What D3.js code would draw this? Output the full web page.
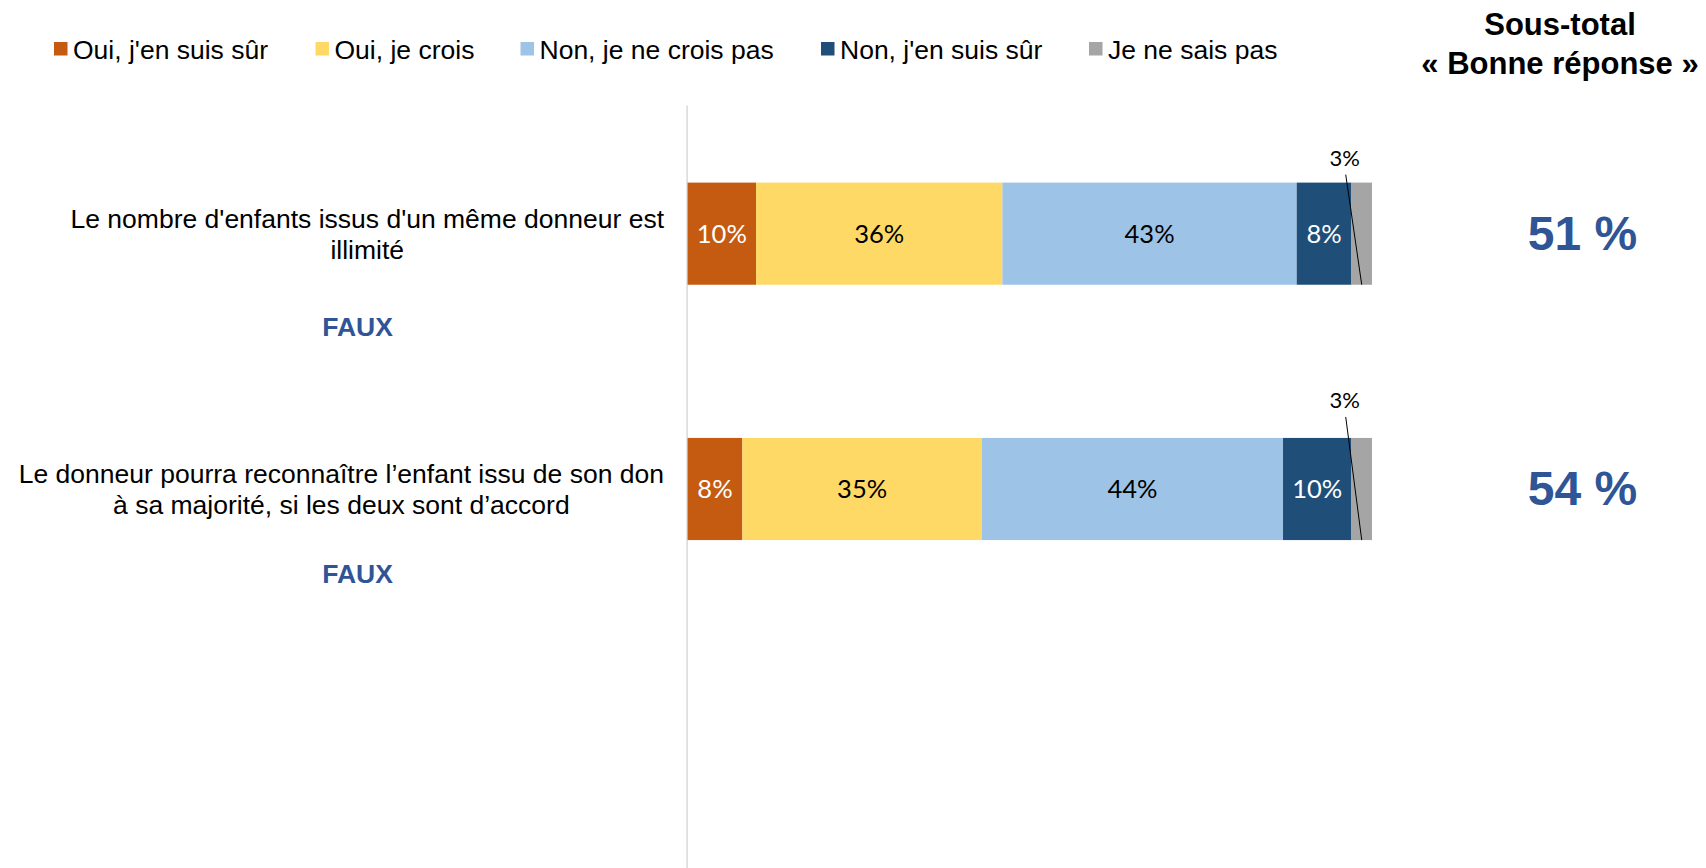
<!DOCTYPE html>
<html>
<head>
<meta charset="utf-8">
<script src="https://cdn.jsdelivr.net/npm/d3@7"></script>
<style>
  body { margin: 0; background: #fff; }
  svg { display: block; }
</style>
</head>
<body>
<div id="chart"></div>
<script>
// data
var series = ["Oui, j'en suis sûr", "Oui, je crois", "Non, je ne crois pas", "Non, j'en suis sûr", "Je ne sais pas"];
var colors = ["#C55A11", "#FFD966", "#9DC3E6", "#1F4E79", "#A5A5A5"];
var labelColors = ["#fff", "#000", "#000", "#fff", "#000"];
var questions = [
  ["Le nombre d'enfants issus d'un même donneur est", "illimité"],
  ["Le donneur pourra reconnaître l\u2019enfant issu de son don", "à sa majorité, si les deux sont d\u2019accord"]
];
var answers = ["FAUX", "FAUX"];
var values = [
  [10, 36, 43, 8, 3],
  [8, 35, 44, 10, 3]
];
var subtotals = ["51 %", "54 %"];

var width = 1706, height = 868;
var blue = "#2F5597";
var arial = "'Liberation Sans', Arial, sans-serif";
var calibri = "Lato, 'Open Sans', sans-serif";

var svg = d3.select("#chart").append("svg")
  .attr("width", width)
  .attr("height", height);

var x = d3.scaleLinear().domain([0, 100]).range([687.6, 1372]);
// three slots, the last one is empty
var y = d3.scaleBand().domain([0, 1, 2]).range([106, 872])
  .paddingInner(0.6).paddingOuter(0.3);

// vertical axis line
svg.append("line")
  .attr("x1", x(0) - 0.5).attr("x2", x(0) - 0.5)
  .attr("y1", 105.5).attr("y2", height)
  .style("stroke", "#d9d9d9").style("stroke-width", 1.5);

// stacked segments
var rows = values.map(function(v, i) {
  var acc = 0;
  return v.map(function(d, j) {
    var seg = {row: i, k: j, v: d, x0: acc, x1: acc + d};
    acc += d;
    return seg;
  });
});

var g = svg.selectAll("g.row").data(rows).enter().append("g").attr("class", "row");

g.selectAll("rect").data(function(d) { return d; })
  .enter().append("rect")
  .attr("x", function(d) { return x(d.x0); })
  .attr("y", function(d) { return y(d.row); })
  .attr("width", function(d) { return x(d.x1) - x(d.x0); })
  .attr("height", y.bandwidth())
  .style("fill", function(d) { return colors[d.k]; });

// labels inside
g.selectAll("text.in").data(function(d) { return d.filter(function(s) { return s.k < 4; }); })
  .enter().append("text")
  .attr("class", "in")
  .attr("x", function(d) { return (x(d.x0) + x(d.x1)) / 2; })
  .attr("y", function(d) { return y(d.row) + y.bandwidth() / 2; })
  .attr("dy", "0.36em")
  .attr("text-anchor", "middle")
  .style("font-family", calibri)
  .style("font-size", "25.5px")
  .style("fill", function(d) { return labelColors[d.k]; })
  .text(function(d) { return d.v + "%"; });

// small segment labels with leader line
var smallOffset = [25, 38];
var small = rows.map(function(r) { return r[4]; });
small.forEach(function(d, i) {
  var cx = (x(d.x0) + x(d.x1)) / 2;
  var ly = y(d.row) - smallOffset[i];
  svg.append("line")
    .attr("x1", cx - 16).attr("y1", ly + 17)
    .attr("x2", cx).attr("y2", y(d.row) + y.bandwidth())
    .style("stroke", "#000").style("stroke-width", 1);
  svg.append("text")
    .attr("x", cx - 17).attr("y", ly)
    .attr("dy", "0.36em")
    .attr("text-anchor", "middle")
    .style("font-family", calibri)
    .style("font-size", "22px")
    .style("fill", "#000")
    .text(d.v + "%");
});

// category labels
var rightEdge = 664;
var answerY = [326.5, 573.5];
questions.forEach(function(lines, i) {
  var cy = y(i) + y.bandwidth() / 2;
  var t = svg.append("text")
    .attr("text-anchor", "middle")
    .style("font-family", arial)
    .style("font-size", "26.5px")
    .style("fill", "#000");
  var spans = t.selectAll("tspan").data(lines).enter().append("tspan")
    .attr("x", 0)
    .attr("y", function(d, k) { return cy + (k - (lines.length - 1) / 2) * 31; })
    .attr("dy", "0.36em")
    .text(function(d) { return d; });
  var maxW = 0;
  spans.each(function() { maxW = Math.max(maxW, this.getComputedTextLength()); });
  spans.attr("x", rightEdge - maxW / 2);

  svg.append("text")
    .attr("x", 357.5)
    .attr("y", answerY[i])
    .attr("dy", "0.36em")
    .attr("text-anchor", "middle")
    .style("font-family", arial)
    .style("font-size", "26.5px")
    .style("font-weight", "bold")
    .style("fill", blue)
    .text(answers[i]);

  svg.append("text")
    .attr("x", 1582.5)
    .attr("y", cy - 1)
    .attr("dy", "0.36em")
    .attr("text-anchor", "middle")
    .style("font-family", arial)
    .style("font-size", "48px")
    .style("font-weight", "bold")
    .style("fill", blue)
    .text(subtotals[i]);
});

// header on the right
svg.append("text")
  .attr("text-anchor", "middle")
  .style("font-family", arial)
  .style("font-size", "31px")
  .style("font-weight", "bold")
  .style("fill", "#000")
  .selectAll("tspan").data(["Sous-total", "\u00ab Bonne réponse \u00bb"]).enter().append("tspan")
  .attr("x", 1560)
  .attr("y", function(d, k) { return 24 + k * 39; })
  .attr("dy", "0.36em")
  .text(function(d) { return d; });

// legend
var legendX = [54, 315.5, 520.5, 821, 1089];
var leg = svg.selectAll("g.leg").data(series).enter().append("g")
  .attr("class", "leg")
  .attr("transform", function(d, i) { return "translate(" + legendX[i] + ",49)"; });
leg.append("rect")
  .attr("x", 0).attr("y", -7)
  .attr("width", 13.5).attr("height", 13.5)
  .style("fill", function(d, i) { return colors[i]; });
leg.append("text")
  .attr("x", 19)
  .attr("y", 0)
  .attr("dy", "0.36em")
  .style("font-family", arial)
  .style("font-size", "26.5px")
  .style("fill", "#000")
  .text(function(d) { return d; });
</script>
</body>
</html>
